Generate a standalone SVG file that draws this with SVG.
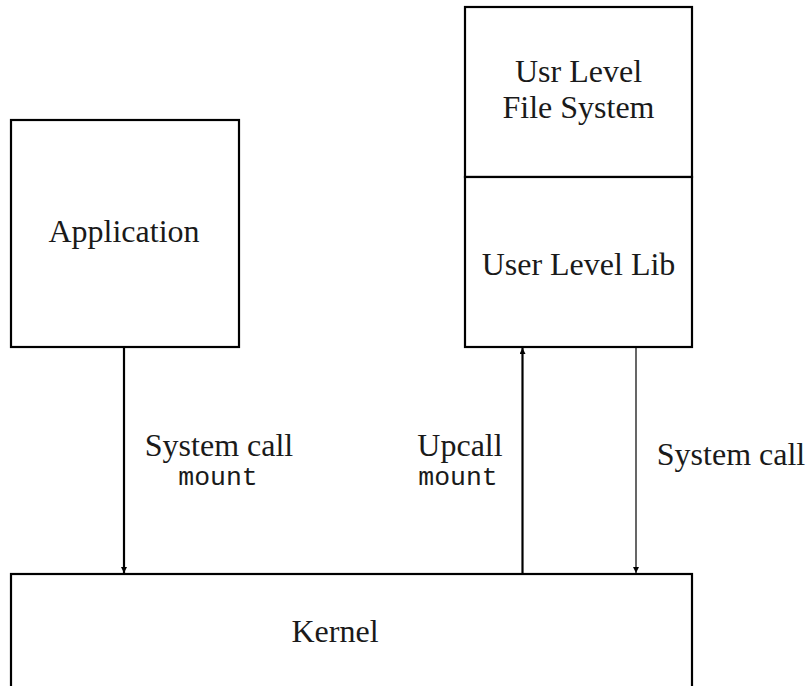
<svg xmlns="http://www.w3.org/2000/svg" width="811" height="686" viewBox="0 0 811 686">
<style>
.box{fill:#fff;stroke:#000;stroke-width:2.2}
.t{font-family:"Liberation Serif","Times New Roman",serif;font-size:32px;fill:#1a1a1a;text-anchor:middle}
.m{font-family:"Liberation Mono","Courier New",monospace;font-size:26.5px;fill:#1a1a1a;text-anchor:middle}
.c{stroke:#000;fill:none}
</style>
<defs>
<marker id="ah" viewBox="0 0 10 10" refX="10" refY="5" markerWidth="6" markerHeight="6" orient="auto" markerUnits="userSpaceOnUse">
<path d="M0,0 L10,5 L0,10 Z" fill="#000"/>
</marker>
<marker id="ahs" viewBox="0 0 10 10" refX="10" refY="5" markerWidth="6" markerHeight="6" orient="auto" markerUnits="userSpaceOnUse">
<path d="M0,0 L10,5 L0,10 Z" fill="#000"/>
</marker>
</defs>
<rect width="811" height="686" fill="#fff"/>
<g id="application">
<rect class="box" x="11" y="120" width="228" height="227"/>
<text class="t" x="124" y="242">Application</text>
</g>
<g id="usr-level-fs">
<rect class="box" x="465" y="7" width="227" height="170"/>
<text class="t" x="578.5" y="82">Usr Level</text>
<text class="t" x="578.5" y="118">File System</text>
</g>
<g id="user-level-lib">
<rect class="box" x="465" y="177" width="227" height="170"/>
<text class="t" x="578.5" y="275">User Level Lib</text>
</g>
<g id="kernel">
<rect class="box" x="11" y="574" width="681" height="130"/>
<text class="t" x="335" y="642">Kernel</text>
</g>
<g id="connectors">
<line class="c" x1="124" y1="348" x2="124" y2="573" stroke-width="2.2" marker-end="url(#ah)"/>
<line class="c" x1="522.5" y1="573" x2="522.5" y2="348" stroke-width="2.2" marker-end="url(#ah)"/>
<line class="c" x1="636" y1="348" x2="636" y2="573" stroke-width="1.2" marker-end="url(#ahs)"/>
<text class="t" x="219" y="456">System call</text>
<text class="m" x="218" y="485">mount</text>
<text class="t" x="460" y="456">Upcall</text>
<text class="m" x="458" y="485">mount</text>
<text class="t" x="731" y="465">System call</text>
</g>
</svg>
